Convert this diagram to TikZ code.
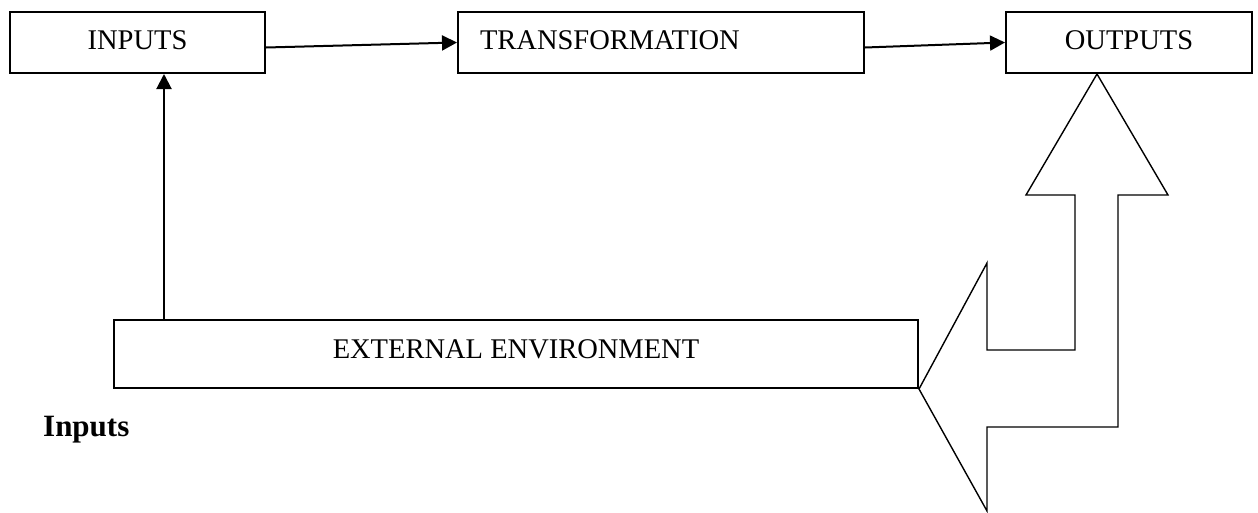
\documentclass[tikz,border=0pt]{standalone}
\usepackage{fontspec}
\setmainfont{Liberation Serif}
\usetikzlibrary{arrows.meta}

\tikzset{
  stage/.style={draw, line width=2pt, minimum height=61pt, inner sep=0pt,
    text height=20pt, text depth=6pt, font=\fontsize{28.5}{30}\selectfont},
  flow/.style={line width=2pt, -{Triangle[length=15pt,width=15pt]}},
  bigarrow/.style={draw, line width=1.4pt, line join=miter}
}

\begin{document}
\begin{tikzpicture}[x=1pt,y=-1pt]
                      \useasboundingbox (0,0) rectangle (1258,512);
                      \node[stage, minimum width=255pt] (Inputs) at (137.5,42.5) {INPUTS};
                      \node[stage, minimum width=406pt, text width=362pt, align=left] (Trans) at (661,42.5) {TRANSFORMATION};
                      \node[stage, minimum width=246pt] (Outputs) at (1129,42.5) {OUTPUTS};
                      \node[stage, minimum width=804pt, minimum height=68pt, text depth=12pt] (Env) at (516,354) {EXTERNAL ENVIRONMENT};
                      \node[anchor=base west, inner sep=0pt, font=\fontsize{31}{33}\selectfont\bfseries] (Heading) at (43,436) {Inputs};
                      \coordinate (InTap) at ([xshift=26.5pt]Inputs.south);
                      \draw[flow] ([yshift=-5pt]Inputs.east) -- (Trans.west);
                      \draw[flow] ([yshift=-5pt]Trans.east) -- (Outputs.west);
                      \draw[flow] (Env.north -| InTap) -- (InTap);
                      % bent double arrow between outputs and environment
                      \draw[bigarrow] (1097,74) -- (1168,195) -- (1118,195) -- (1118,427) -- (987,427)
                        -- (987,511) -- (Env.south east) -- (987,263) -- (987,350) -- (1075,350)
                        -- (1075,195) -- (1026,195) -- cycle;
                    \end{tikzpicture}
\end{document}
